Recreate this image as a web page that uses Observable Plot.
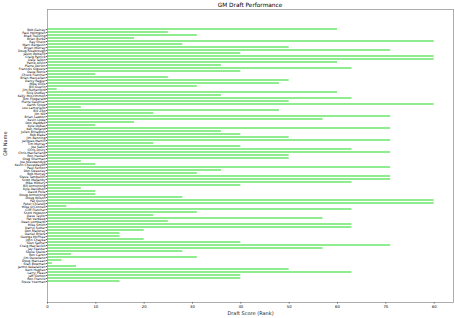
<!DOCTYPE html>
<html>
<head>
<meta charset="utf-8">
<script src="https://cdn.jsdelivr.net/npm/d3@7"></script>
<script src="https://cdn.jsdelivr.net/npm/@observablehq/plot@0.6"></script>
<style>
  body { margin: 0; background: #fff; font-family: "DejaVu Sans", sans-serif; }
  #title { height: 8px; line-height: 10px; font-size: 5.8px; text-align: center; padding-left: 47px; padding-right: 2px; color: #000; }
  #chart svg { display: block; }
</style>
</head>
<body>
<div id="title">GM Draft Performance</div>
<div id="chart"></div>
<script>
const gmNames = [
  "Bob Gainey","Paul Holmgren","Brad Treliving","Brian Burke","Ray Shero","Marc Bergevin","Bryan Murray","Doug Risebrough","Jason Botterill","Craig Patrick",
  "Dale Tallon","Patrik Allvin","Pierre Dorion","Francois Giguere","Dave Nonis","Chuck Fletcher","Brian MacLellan","Darcy Regier","Mike Gillis","Bill Guerin",
  "Jim Rutherford","Rick Dudley","Kelly McCrimmon","Tom Fitzgerald","Pierre Gauthier","Garth Snow","Lou Lamoriello","Bill Zito","Jim Nill","Brian Lawton",
  "Kevin Lowe","Don Waddell","Kyle Dubas","Ken Holland","Julien BriseBois","Rob Blake","Jim Benning","Jacques Martin","Tim Murray","Joe Sakic",
  "Chris Drury","Chris MacFarland","Ron Hextall","Greg Sherman","Joe Nieuwendyk","Kevin Cheveldayoff","Paul Fenton","Don Sweeney","Bob Murray","Steve Tambellini",
  "Scott Mellanby","Mike Milbury","Bill Armstrong","Kyle Davidson","David Poile","Doug Armstrong","Doug Wilson","Pat Quinn","Peter Chiarelli","Mike O'Connell",
  "Cliff Fletcher","Scott Howson","Dave Taylor","Pat Verbeek","Dean Lombardi","Mike Smith","Darryl Sutter","Don Maloney","Daniel Briere","George McPhee",
  "John Chayka","Glen Sather","Craig MacTavish","Jay Feaster","Steve Staios","Ron Caron","Jim Devellano","Doug MacLean","Stan Bowman","Jarmo Kekalainen",
  "Kent Hughes","Larry Pleau","Jeff Gorton","Ron Francis","Steve Yzerman"
];
const draftScores = [
  60,25,31,18,80,28,50,71,40,80,
  80,60,36,63,40,10,25,50,48,31,
  2,60,36,63,50,80,7,48,22,71,
  57,18,10,71,36,40,50,71,22,40,
  63,71,50,50,7,10,71,36,31,71,
  71,63,40,7,10,10,28,80,80,4,
  63,31,22,57,25,63,63,20,15,15,
  20,40,71,57,28,5,31,3,1,6,
  50,63,40,40,15
];
const xTicks = [0,10,20,30,40,50,60,70,80];
const xLabel = "Draft Score (Rank)";
const yLabel = "GM Name";

const rows = gmNames.map((name, i) => ({name, score: draftScores[i]}));

const chart = Plot.plot({
  width: 455,
  height: 310,
  marginTop: 1,
  marginBottom: 16,
  marginLeft: 47,
  marginRight: 2,
  style: {fontFamily: "DejaVu Sans, sans-serif", fontSize: "3px", background: "#fff", color: "#000"},
  x: {domain: [0, 84]},
  y: {domain: gmNames, paddingInner: 0.2, paddingOuter: 4.24},
  marks: [
    Plot.barX(rows, {x: "score", y: "name", fill: "#8fec8f", inset: 0}),
    Plot.frame({stroke: "#999", strokeWidth: 0.8}),
    Plot.axisX({ticks: xTicks, tickSize: 1.5, tickPadding: 1, fontSize: 3.8, label: null, stroke: "#666"}),
    Plot.axisY({tickSize: 1.2, tickPadding: 0.8, fontSize: 3.2, label: null, stroke: "#666"}),
    Plot.text([xLabel], {text: d => d, frameAnchor: "bottom", dy: 10.8, fontSize: 5, lineAnchor: "middle", fill: "#222"}),
    Plot.text([yLabel], {text: d => d, frameAnchor: "left", dx: -42, rotate: -90, fontSize: 5, lineAnchor: "middle", fill: "#222"})
  ]
});
document.getElementById("chart").appendChild(chart);
</script>
</body>
</html>
